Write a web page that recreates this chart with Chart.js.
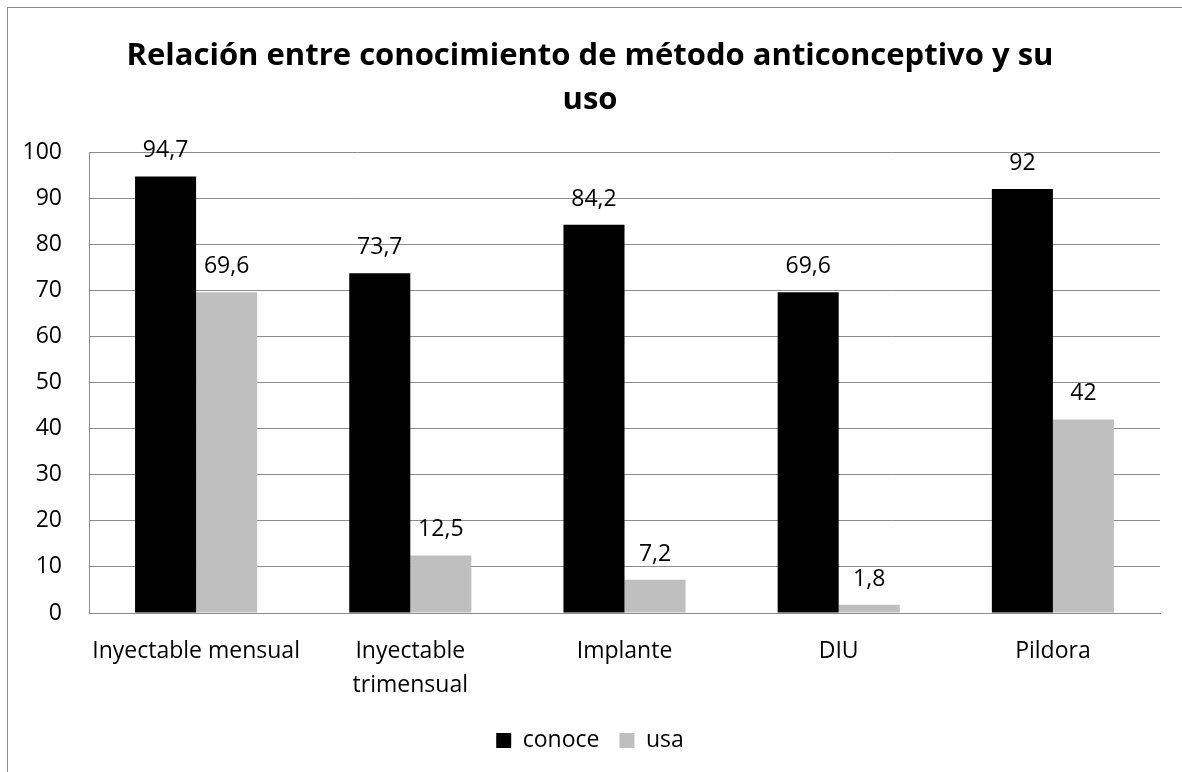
<!DOCTYPE html>
<html>
<head>
<meta charset="utf-8">
<script src="https://cdn.jsdelivr.net/npm/chart.js@4"></script>
<style>
    body { margin: 0; background: #fff; }
    #wrap { position: relative; width: 1182px; height: 772px; overflow: hidden; }
    #frame { position: absolute; left: 7px; top: 7px; width: 1300px; height: 900px; border: 1px solid #8c8c8c; }
    #chart { position: absolute; left: 0; top: 0; }
</style>
</head>
<body>
<div id="wrap">
    <div id="frame"></div>
    <canvas id="chart" width="1182" height="772"></canvas>
</div>
<script>
const categories = ['Inyectable mensual', ['Inyectable', 'trimensual'], 'Implante', 'DIU', 'Pildora'];
const conoce = [94.7, 73.7, 84.2, 69.6, 92];
const usa = [69.6, 12.5, 7.2, 1.8, 42];
const yTicks = [0, 10, 20, 30, 40, 50, 60, 70, 80, 90, 100];

const fontFamily = '"Open Sans", sans-serif';

// draws the numbers above each bar, comma as decimal mark
const barLabels = {
    id: 'barLabels',
    afterDatasetsDraw(chart) {
        const ctx = chart.ctx;
        ctx.save();
        ctx.fillStyle = '#000';
        ctx.font = '23px ' + fontFamily;
        ctx.textAlign = 'center';
        ctx.textBaseline = 'alphabetic';
        chart.data.datasets.forEach((ds, i) => {
            chart.getDatasetMeta(i).data.forEach((bar, j) => {
                const txt = String(ds.data[j]).replace('.', ',');
                ctx.fillText(txt, bar.x, bar.y - 19);
            });
        });
        ctx.restore();
    }
};

new Chart(document.getElementById('chart'), {
    type: 'bar',
    data: {
        labels: categories,
        datasets: [
            { label: 'conoce', data: conoce, backgroundColor: '#000000' },
            { label: 'usa', data: usa, backgroundColor: '#bfbfbf' }
        ]
    },
    options: {
        responsive: false,
        animation: false,
        datasets: { bar: { categoryPercentage: 0.57, barPercentage: 1.0 } },
        layout: { padding: { left: 20, right: 22, top: 0, bottom: 10 } },
        scales: {
            x: {
                grid: { display: false, drawTicks: false },
                border: { color: '#8c8c8c' },
                ticks: { color: '#000', font: { family: fontFamily, size: 23, lineHeight: 1.48 }, padding: 21, maxRotation: 0, autoSkip: false },
                afterFit(scale) { scale.height = 96; }
            },
            y: {
                min: 0,
                max: 100,
                afterBuildTicks(scale) { scale.ticks = yTicks.map(v => ({ value: v })); },
                grid: { color: '#8c8c8c', drawTicks: false },
                border: { color: '#8c8c8c' },
                ticks: { color: '#000', font: { family: fontFamily, size: 23 }, padding: 27 },
                afterFit(scale) { scale.width = 69; }
            }
        },
        plugins: {
            title: {
                display: true,
                text: ['Relación entre conocimiento de método anticonceptivo y su', 'uso'],
                color: '#000',
                font: { family: fontFamily, size: 31, weight: 'bold', lineHeight: 1.42 },
                padding: { top: 34, bottom: 30 }
            },
            legend: {
                position: 'bottom',
                labels: {
                    color: '#000',
                    font: { family: fontFamily, size: 23 },
                    boxWidth: 15,
                    boxHeight: 15,
                    padding: 20
                }
            },
            tooltip: { enabled: false }
        }
    },
    plugins: [barLabels]
});
</script>
</body>
</html>
